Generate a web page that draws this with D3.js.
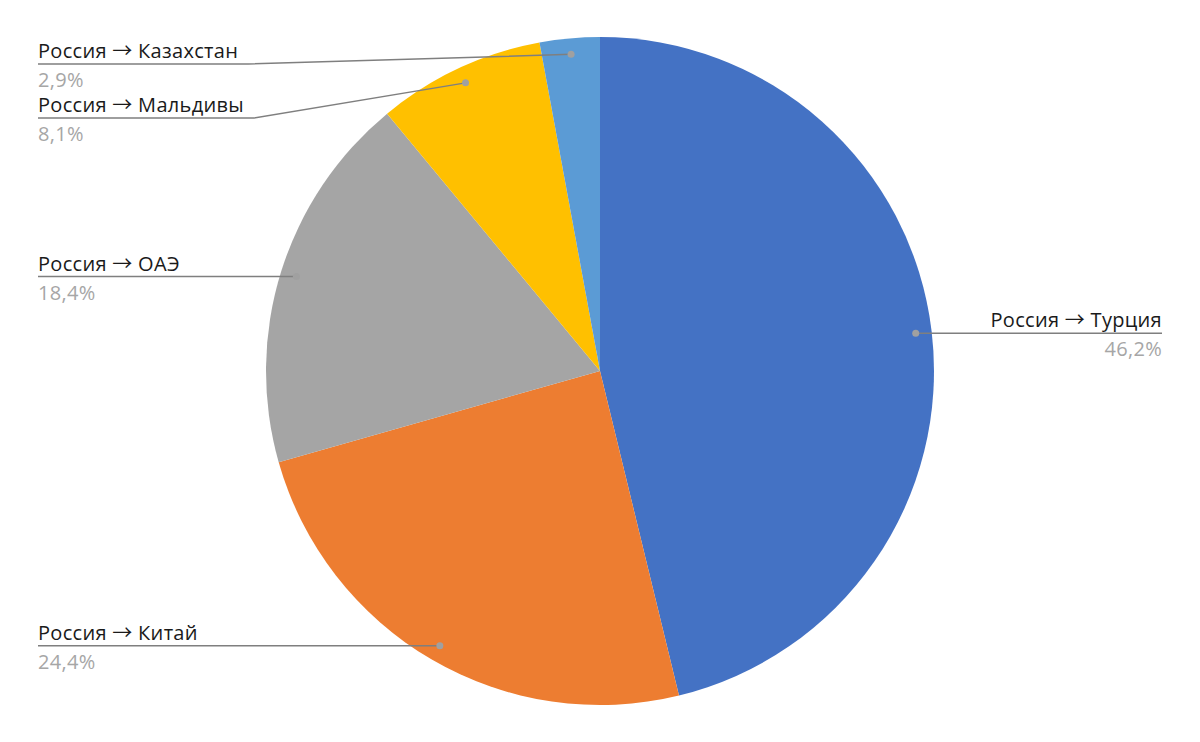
<!DOCTYPE html>
<html>
<head>
<meta charset="utf-8">
<script src="https://cdn.jsdelivr.net/npm/d3@7"></script>
<style>
  html, body { margin: 0; padding: 0; background: #fff; }
  svg { display: block; font-family: "Open Sans", "Noto Sans", sans-serif; }
</style>
</head>
<body>
<div id="chart"></div>
<script>
// Pie of travel routes
const origin = 'Россия';
const routes = ['Турция', 'Китай', 'ОАЭ', 'Мальдивы', 'Казахстан'];
const shares = [46.2, 24.4, 18.4, 8.1, 2.9];
const colors = ['#4472C4', '#ED7D31', '#A5A5A5', '#FFC000', '#5B9BD5'];

const width = 1200, height = 742;
const cx = 600, cy = 371, radius = 334;
const dotRadius = radius * 0.952;
const leftX = 38, rightX = 1162;
const fontSize = 20;

// small labels near the top get pushed away from each other
const labelShift = { 'Мальдивы': 118, 'Казахстан': 64 };

const svg = d3.select('#chart').append('svg')
    .attr('width', width)
    .attr('height', height);

const pie = d3.pie().sort(null).value(d => d.value);
const arc = d3.arc().innerRadius(0).outerRadius(radius);
const dotArc = d3.arc().innerRadius(dotRadius).outerRadius(dotRadius);

const data = routes.map((r, i) => ({ name: r, value: shares[i], color: colors[i] }));
const arcs = pie(data);

const g = svg.append('g').attr('transform', `translate(${cx},${cy})`);
g.selectAll('path.slice')
    .data(arcs)
    .enter().append('path')
    .attr('class', 'slice')
    .attr('d', arc)
    .attr('fill', d => d.data.color);

const fmt = v => v.toFixed(1).replace('.', ',') + '%';

arcs.forEach(a => {
    const mid = (a.startAngle + a.endAngle) / 2;
    const [dx, dy] = dotArc.centroid(a);
    const px = cx + dx, py = cy + dy;
    const right = Math.sin(mid) > 0;
    const lineY = labelShift[a.data.name] !== undefined ? labelShift[a.data.name] : py;

    const name = svg.append('text')
        .attr('x', right ? rightX : leftX)
        .attr('y', lineY - 6)
        .attr('text-anchor', right ? 'end' : 'start')
        .attr('font-size', fontSize)
        .attr('letter-spacing', 0.3)
        .attr('fill', '#1a1a1a');
    name.append('tspan').text(origin + ' ');
    name.append('tspan').attr('font-family', '"Noto Sans CJK SC"').text('→');
    name.append('tspan').text(' ' + a.data.name);

    svg.append('text')
        .attr('x', right ? rightX : leftX)
        .attr('y', lineY + 23)
        .attr('text-anchor', right ? 'end' : 'start')
        .attr('font-size', fontSize)
        .attr('letter-spacing', 0.3)
        .attr('fill', '#a6a6a6')
        .text(fmt(a.data.value));

    const tw = name.node().getComputedTextLength();
    let pts;
    if (right) {
        pts = [[rightX, lineY], [px, py]];
    } else {
        const edge = Math.min(leftX + tw + 10, px);
        pts = [[leftX, lineY], [edge, lineY], [px, py]];
    }
    svg.append('path')
        .attr('d', d3.line()(pts))
        .attr('fill', 'none')
        .attr('stroke', '#7f7f7f')
        .attr('stroke-width', 1.5);

    svg.append('circle')
        .attr('cx', px)
        .attr('cy', py)
        .attr('r', 3.5)
        .attr('fill', '#a0a0a0');
});
</script>
</body>
</html>
